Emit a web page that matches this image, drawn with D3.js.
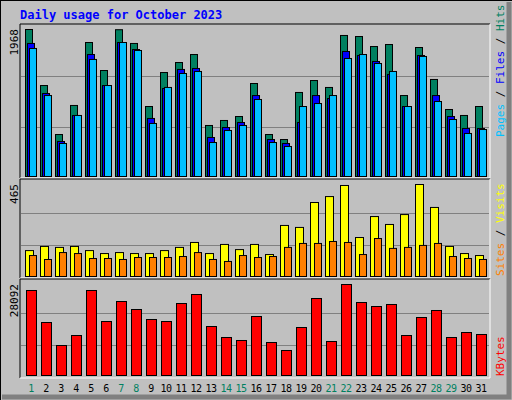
<!DOCTYPE html>
<html><head><meta charset="utf-8">
<script src="https://cdn.jsdelivr.net/npm/d3@7"></script>
<style>body{margin:0;background:#fff}</style>
</head><body><div id="chart"></div>
<script>
const days = d3.range(1, 32)
const weekend = [1, 7, 8, 14, 15, 21, 22, 28, 29]
const hits = [1968,1218,562,951,1794,1419,1965,1781,937,1392,1526,1633,683,750,803,1245,562,495,1125,1285,1192,1888,1874,1740,1767,1084,1727,1299,897,817,937]
const files = [1781,1111,469,817,1633,1218,1794,1700,777,1178,1433,1446,522,656,723,1084,495,442,723,1084,1044,1674,1620,1540,1366,937,1620,1084,803,643,643]
const pages = [1714,1084,442,817,1567,1218,1794,1687,710,1192,1379,1406,455,616,683,1031,455,402,937,977,1084,1580,1633,1513,1406,937,1607,1004,763,576,629]
const visits = [131,152,147,152,131,116,121,116,116,131,147,172,116,162,136,162,111,258,248,374,404,460,197,303,263,313,465,349,152,116,106]
const sites = [106,86,121,116,91,91,86,96,96,96,101,121,86,76,106,96,101,147,167,167,177,172,111,192,142,147,157,167,101,91,86]
const kbytes = [26240,16361,9261,12348,26240,16670,22844,20374,17287,16670,22226,25005,15126,11731,10805,18213,10187,7718,14818,23770,10496,28092,22535,21300,21918,12348,17905,20066,11731,13274,12657]

const font = "DejaVu Sans Mono, monospace"
const svg = d3.select("#chart").append("svg").attr("width", 512).attr("height", 400)

// frame
svg.append("rect").attr("width", 512).attr("height", 400).attr("fill", "#c0c0c0")
svg.append("path").attr("d", "M0,400V0H512").attr("stroke", "#000").attr("stroke-width", 2).attr("fill", "none")
svg.append("path").attr("d", "M2,397H509V2").attr("stroke", "#808080").attr("stroke-width", 5).attr("fill", "none")
svg.append("text").attr("x", 20).attr("y", 19).attr("font-family", font).attr("font-weight", "bold")
    .attr("font-size", 12).attr("fill", "#0000ff").text("Daily usage for October 2023")

const x = d3.scaleBand().domain(days).range([22, 487])

const panels = [
    {top: 24, bottom: 178, y0: 176, y1: 29, max: 1968},
    {top: 179, bottom: 278, y0: 276, y1: 184, max: 465},
    {top: 279, bottom: 378, y0: 375, y1: 284, max: 28092}
]

panels.forEach(p => {
    p.y = d3.scaleLinear().domain([0, p.max]).range([p.y0, p.y1])
    svg.append("path").attr("d", `M20,${p.bottom}V${p.top}H490`).attr("stroke", "#000").attr("fill", "none")
    svg.append("path").attr("d", `M20,${p.bottom}H490V${p.top}`).attr("stroke", "#fff").attr("fill", "none")
    ;[0.335, 0.68].forEach(f => svg.append("line").attr("x1", 21).attr("x2", 489)
        .attr("y1", Math.round(p.y(p.max * f)) + 0.5).attr("y2", Math.round(p.y(p.max * f)) + 0.5)
        .attr("stroke", "#808080"))
    svg.append("text").attr("transform", `translate(18,${p.y1}) rotate(-90)`).attr("text-anchor", "end")
        .attr("font-family", font).attr("font-size", 11).attr("fill", "#000").text(p.max)
})

function bars(vals, p, off, w, color) {
    svg.append("g").selectAll("rect").data(vals).join("rect")
        .attr("x", (d, i) => x(days[i]) + off + 0.5)
        .attr("y", d => p.y(d) + 0.5)
        .attr("width", w)
        .attr("height", d => p.y0 - p.y(d))
        .attr("fill", color).attr("stroke", "#000")
}
bars(hits, panels[0], 3, 7, "#008060")
bars(files, panels[0], 5, 7, "#0000ff")
bars(pages, panels[0], 7, 7, "#00c0ff")
bars(visits, panels[1], 3, 8, "#ffff00")
bars(sites, panels[1], 7, 7, "#ff8000")
bars(kbytes, panels[2], 4, 10, "#ff0000")

// right side legends
function legend(parts, yBottom) {
    const t = svg.append("text").attr("transform", `translate(504,${yBottom}) rotate(-90)`)
        .attr("font-family", font).attr("font-size", 11)
    parts.forEach(([s, c]) => t.append("tspan").attr("fill", c).text(s))
}
legend([["Pages", "#00c0ff"], [" / ", "#000"], ["Files", "#0000ff"], [" / ", "#000"], ["Hits", "#008060"]], 137)
legend([["Sites", "#ff8000"], [" / ", "#000"], ["Visits", "#ffff00"]], 276)
legend([["KBytes", "#ff0000"]], 376)

svg.append("g").selectAll("text").data(days).join("text")
    .attr("x", d => x(d) + 9).attr("y", 392).attr("text-anchor", "middle")
    .attr("font-family", font).attr("font-size", 10).attr("letter-spacing", -0.5)
    .attr("fill", d => weekend.includes(d) ? "#008060" : "#000").text(d => d)
</script></body></html>
